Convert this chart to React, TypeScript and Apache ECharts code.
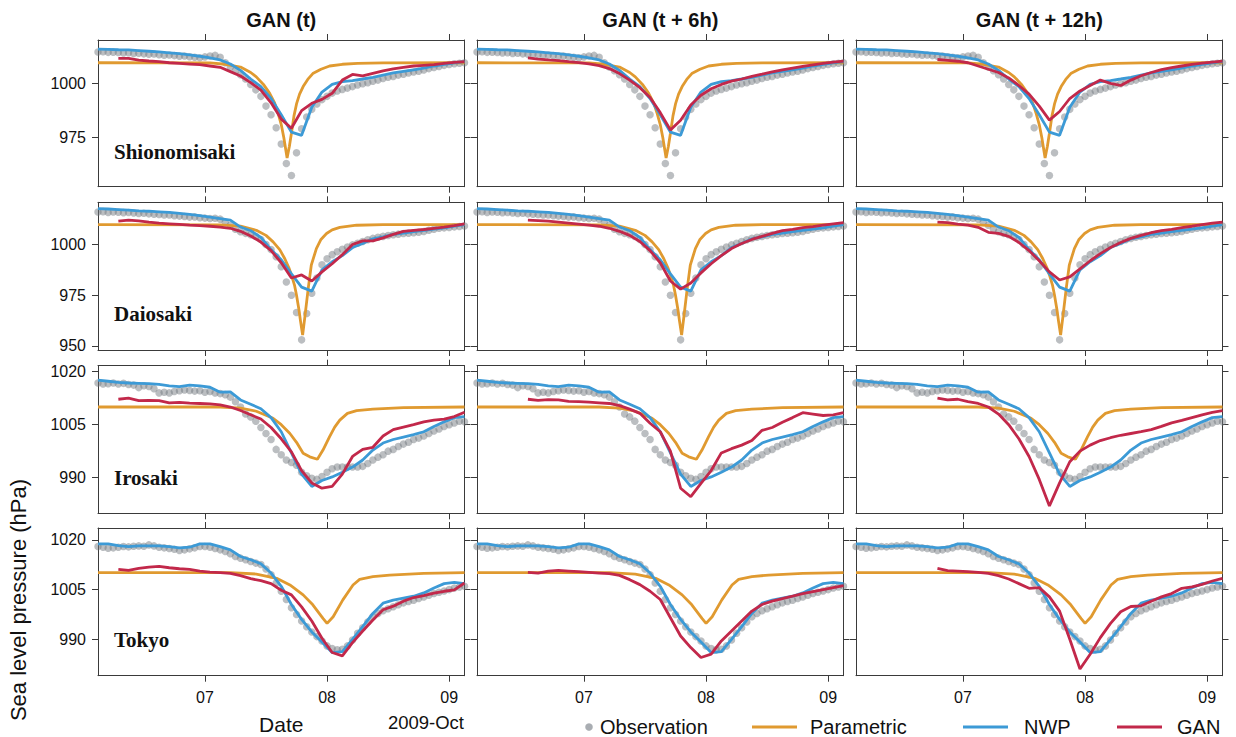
import React, { useEffect, useRef } from 'react';
import * as echarts from 'echarts';

// ---------------- data ----------------
const startDay = 6.125; // 2009-10-06 03:00, hour index 0
const xMinDay = 6.125;
const xMaxDay = 9.125;
const dateTicks = [7, 8, 9];
const dateTickLabels = ['07', '08', '09'];
const panelTitles = ['GAN (t)', 'GAN (t + 6h)', 'GAN (t + 12h)'];
const stationNames = ['Shionomisaki', 'Daiosaki', 'Irosaki', 'Tokyo'];
const pressureTicks = [[975, 1000], [950, 975, 1000], [990, 1005, 1020], [990, 1005, 1020]];
const pressureRanges = [[952.3, 1020], [948, 1020.8], [979.9, 1021.7], [979, 1023.6]];
const ganStartHour = [4, 10, 16]; // GAN(t), GAN(t+6h), GAN(t+12h); then every 2 h
const legendNames = ['Observation', 'Parametric', 'NWP', 'GAN'];

// hourly observations from hour 0
const obsShionomisaki = [
  1014.5, 1014.6, 1014.3, 1014.4, 1014.2, 1014.0, 1014.1, 1013.8, 1013.9, 1013.6, 1013.4, 1013.5, 1013.2, 1013.0, 1013.1, 1012.8, 1012.5, 1012.6, 1012.3, 1012.0, 1011.8, 1012.2, 1012.6, 1012.9, 1012.0,
  1009.5, 1007.5, 1005.8, 1004.0, 1002.0, 999.5, 997.0, 994.0, 989.5, 985.5, 979.5, 972.0, 963.0,
  957.5, 968.0, 979.0, 984.5, 988.0, 990.5, 992.5, 994.0, 995.5, 996.5, 997.2, 997.8, 998.5, 999.2, 999.8, 1000.3, 1001.0, 1001.5, 1002.2, 1002.8, 1003.2, 1003.8, 1004.2, 1004.8, 1005.2, 1005.6, 1006.2, 1006.8, 1007.3, 1007.8, 1008.3, 1008.7, 1009.0, 1009.3, 1009.5,
];
const obsDaiosaki = [
  1016.0, 1016.2, 1015.8, 1016.0, 1015.9, 1015.7, 1015.8, 1015.5, 1015.3, 1015.4, 1015.1, 1014.9, 1014.8, 1014.5, 1014.6, 1014.2, 1014.0, 1013.8, 1013.5, 1013.6, 1013.2, 1013.0, 1012.8, 1012.9, 1012.5,
  1011.0, 1009.5, 1007.5, 1006.3, 1005.5, 1004.8, 1004.0, 1002.5, 1000.0, 997.5, 994.0, 989.0, 981.5, 975.0, 966.5, 953.0,
  966.0, 976.0, 983.5, 990.0, 993.0, 995.0, 996.4, 997.6, 998.8, 999.8, 1000.6, 1001.5, 1002.3, 1003.0, 1003.6, 1004.0, 1004.4, 1004.8, 1005.1, 1005.4, 1005.6, 1005.8, 1006.0, 1006.4, 1007.0, 1007.5, 1008.0, 1008.2, 1008.4, 1008.7, 1008.9, 1009.1,
];
const obsIrosaki = [
  1016.8, 1016.5, 1016.6, 1016.8, 1016.5, 1016.7, 1016.4, 1016.2, 1015.5, 1016.0, 1015.8, 1015.2, 1014.0, 1014.2, 1014.0, 1014.4, 1014.6, 1014.8, 1014.7, 1014.5, 1014.6, 1014.2, 1014.4, 1014.0, 1013.8,
  1013.5, 1012.8, 1011.5, 1010.0, 1008.0, 1007.2, 1006.0, 1004.2, 1002.5, 1000.8, 998.0, 996.5, 995.0, 994.3, 993.5, 991.5, 990.5, 989.8, 989.5, 990.3, 991.5, 992.5, 993.0, 993.0,
  993.0, 993.0, 993.0, 993.2, 994.0, 995.0, 995.8, 996.5, 997.5, 998.0, 998.8, 999.5, 1000.0, 1000.8, 1001.2, 1001.8, 1002.5, 1003.2, 1003.8, 1004.5, 1005.0, 1005.5, 1006.0, 1005.8,
];
const obsTokyo = [
  1018.0, 1017.8, 1017.5, 1017.6, 1017.8, 1018.0, 1017.9, 1018.1, 1018.2, 1018.1, 1018.5, 1018.2, 1017.8, 1017.6, 1017.4, 1017.2, 1016.8, 1017.0, 1017.3, 1017.6, 1018.0, 1018.0, 1017.8, 1017.4, 1017.0,
  1016.5, 1015.8, 1015.0, 1014.5, 1014.0, 1013.5, 1013.0, 1012.6, 1011.2, 1009.5, 1007.0, 1004.5, 1002.0, 999.5, 997.5, 995.5, 993.8, 992.2, 990.8, 989.5, 988.0, 987.2, 986.8, 987.0,
  988.0, 989.8, 991.8, 993.5, 995.2, 996.8, 997.8, 998.6, 999.2, 999.8, 1000.4, 1001.0, 1001.4, 1001.8, 1002.3, 1002.8, 1003.3, 1003.8, 1004.2, 1004.6, 1005.0, 1005.5, 1005.8, 1006.0,
];

// NWP every 2 h from hour 0
const nwpShionomisaki = [
  1015.8, 1015.7, 1015.5, 1015.4, 1015.1, 1014.8, 1014.5, 1014.1, 1013.7, 1013.1, 1012.5, 1011.8, 1010.8,
  1008.9, 1006.0, 1002.0, 998.5, 993.0, 985.5, 977.5, 976.0,
  989.0, 996.0, 999.5, 1000.8, 1001.3, 1002.0, 1002.8, 1003.8, 1004.8, 1005.5, 1006.2, 1007.0, 1008.0, 1008.8, 1009.4, 1010.0,
];
const nwpDaiosaki = [
  1017.7, 1017.5, 1017.2, 1016.9, 1016.6, 1016.4, 1016.1, 1015.8, 1015.3, 1014.8, 1014.2, 1013.5, 1012.8,
  1012.0, 1008.6, 1006.8, 1003.5, 997.5, 992.5, 985.5, 979.0, 977.0,
  987.5, 991.5, 994.5, 998.5, 1000.5, 1002.8, 1003.8, 1005.0, 1005.6, 1006.3, 1007.0, 1007.6, 1008.2, 1009.0, 1009.8,
];
const nwpIrosaki = [
  1017.6, 1017.3, 1017.0, 1016.8, 1016.7, 1016.6, 1016.4, 1016.0, 1015.8, 1016.2, 1016.0, 1015.6, 1014.2,
  1014.3, 1012.0, 1010.8, 1009.5, 1007.0, 1003.0, 997.0, 991.0, 987.5,
  989.2, 990.2, 991.5, 993.0, 995.0, 997.8, 999.8, 1000.8, 1001.5, 1002.2, 1003.0, 1004.5, 1005.8, 1007.0, 1007.3,
];
const nwpTokyo = [
  1018.8, 1018.8, 1018.3, 1018.0, 1018.2, 1018.2, 1018.2, 1018.0, 1017.6, 1017.8, 1018.8, 1018.8, 1018.0,
  1017.0, 1015.0, 1014.0, 1012.8, 1010.0, 1006.0, 1000.5, 996.0, 992.2,
  989.2, 986.0, 986.3, 990.0, 993.8, 997.8, 1000.9, 1001.8, 1002.4, 1003.0, 1004.0, 1005.5, 1006.8, 1007.2, 1006.8,
];

// Parametric model: [hour, hPa]
const paramShionomisaki = [
  [0, 1009.5], [22, 1009.4], [25, 1008.8], [28, 1007.5], [30, 1005], [31.1, 1003], [32.5, 999.5], [33.7, 995.5], [34.7, 991], [35.4, 986], [36, 981], [36.5, 975], [37.15, 965.5],
  [37.6, 971], [38, 977], [38.5, 985], [39, 990.5], [39.6, 995], [40.3, 998.5], [41.2, 1001.8], [42.2, 1004.5], [43.8, 1006.5], [45.5, 1008], [48, 1008.8], [51, 1009.2], [56, 1009.4], [72, 1009.5],
];
const paramDaiosaki = [
  [0, 1009.8], [24, 1009.7], [28, 1009.1], [31.1, 1007], [33, 1004.5], [34.4, 1001.3], [35.7, 997.5], [36.7, 993], [37.5, 988.5], [38, 985], [38.6, 980], [39, 975], [39.5, 967.5], [39.8, 962], [40.2, 955.4],
  [40.6, 963.5], [41, 972], [41.3, 978.4], [41.9, 989.8], [42.9, 998], [43.8, 1002.5], [44.9, 1005.4], [46, 1007.2], [47.5, 1008.4], [50.8, 1009.5], [56, 1009.8], [72, 1009.8],
];
const paramIrosaki = [
  [0, 1010], [24, 1010], [28, 1009.7], [31.1, 1008.8], [34.4, 1006.8], [36, 1005], [37.7, 1002.5], [39, 1000], [40.3, 996.9], [41.6, 995.9], [43.1, 995.2],
  [44.2, 997.8], [45.5, 1001.6], [46.5, 1004.3], [47.5, 1006.3], [49, 1008.2], [50.8, 1009], [54, 1009.4], [60, 1009.8], [72, 1010],
];
const paramTokyo = [
  [0, 1010.1], [26, 1010.1], [31.1, 1009.7], [35.1, 1008.4], [37.7, 1006.4], [40.3, 1003.4], [42.2, 1000.4], [44.2, 996.3], [45, 994.8],
  [46.2, 996.8], [48.1, 1001.9], [50.1, 1006.4], [51.4, 1008.1], [54, 1008.9], [57.3, 1009.4], [64, 1009.9], [72, 1010.1],
];

// GAN every 2 h from ganStartHour
const ganShionomisakiT = [
  1011.5, 1011.5, 1010.7, 1010.3, 1010.0, 1009.5, 1009.2, 1008.9, 1008.6, 1008.0, 1007.4,
  1005.4, 1003.4, 1000.3, 996.9, 991.0, 983.5, 979.3, 987.4,
  990.8, 992.6, 995.4, 1001.5, 1004.1, 1003.4, 1004.6, 1005.8, 1006.7, 1007.4, 1008.0, 1008.3, 1008.6, 1009.2, 1009.7, 1010.0,
];
const ganShionomisakiT6 = [
  1011.8, 1011.2, 1010.8, 1010.5, 1010.0, 1009.6, 1009.0, 1008.2,
  1006.8, 1004.5, 1001.5, 998.0, 993.5, 986.5, 978.5, 983.0,
  990.0, 994.5, 997.5, 999.5, 1001.0, 1002.0, 1003.2, 1004.2, 1005.3, 1006.2, 1007.0, 1007.8, 1008.5, 1009.2, 1009.8, 1010.3,
];
const ganShionomisakiT12 = [
  1011.0, 1010.6, 1010.2, 1009.5, 1008.0,
  1006.5, 1005.0, 1002.5, 999.0, 995.0, 989.5, 983.0, 987.0,
  993.0, 996.5, 999.0, 1001.5, 1000.0, 999.0, 1001.5, 1003.5, 1005.0, 1006.3, 1007.2, 1008.0, 1008.8, 1009.3, 1009.8, 1010.3,
];
const ganDaiosakiT = [
  1011.5, 1012.0, 1011.6, 1011.0, 1010.5, 1010.2, 1009.9, 1009.5, 1009.3, 1009.0, 1008.6,
  1008.0, 1006.5, 1004.2, 1001.2, 997.0, 991.0, 983.5, 985.0,
  982.0, 986.5, 990.5, 995.0, 1000.0, 1001.8, 1001.8, 1003.3, 1005.0, 1006.5, 1007.0, 1007.4, 1008.0, 1008.6, 1009.3, 1010.2,
];
const ganDaiosakiT6 = [
  1012.0, 1011.8, 1011.5, 1011.0, 1010.5, 1010.0, 1009.5, 1009.0,
  1008.0, 1006.5, 1004.5, 1001.5, 997.0, 991.0, 982.0, 978.0,
  981.0, 986.0, 990.5, 994.5, 998.0, 1000.5, 1002.5, 1004.0, 1005.5, 1006.8, 1007.5, 1008.3, 1008.8, 1009.5, 1010.2, 1010.8,
];
const ganDaiosakiT12 = [
  1011.0, 1010.8, 1010.0, 1009.5, 1008.5,
  1006.0, 1005.5, 1004.0, 1001.0, 997.0, 992.0, 986.5, 982.5,
  984.0, 988.0, 992.0, 995.5, 998.5, 1001.0, 1003.0, 1004.5, 1005.8, 1006.8, 1007.5, 1008.3, 1009.0, 1009.8, 1010.5, 1011.0,
];
const ganIrosakiT = [
  1012.2, 1012.5, 1011.8, 1011.9, 1011.8, 1011.2, 1011.3, 1011.1, 1011.0, 1010.9, 1010.6,
  1010.0, 1009.0, 1007.8, 1006.6, 1004.2, 1001.0, 997.3, 992.0,
  988.5, 987.0, 987.5, 991.0, 996.0, 998.0, 998.6, 1001.8, 1003.6, 1004.3, 1005.0, 1005.8, 1006.3, 1006.6, 1007.3, 1008.5,
];
const ganIrosakiT6 = [
  1012.2, 1011.9, 1012.1, 1012.0, 1011.6, 1011.5, 1011.4, 1011.2,
  1011.0, 1010.4, 1009.4, 1008.2, 1005.4, 1003.0, 997.5, 987.0,
  984.6, 988.4, 992.0, 997.0, 998.2, 999.2, 1000.5, 1003.4, 1004.2, 1005.7, 1007.0, 1008.4, 1008.0, 1007.6, 1007.8, 1008.4,
];
const ganIrosakiT12 = [
  1012.5, 1012.0, 1012.2, 1011.5, 1011.0,
  1010.0, 1008.0, 1005.0, 1001.0, 996.0, 989.5, 982.0, 988.5,
  994.5, 997.5, 999.2, 1000.5, 1001.3, 1002.0, 1002.5, 1003.0, 1003.6, 1004.5, 1005.5, 1006.2, 1007.0, 1007.8, 1008.5, 1009.0,
];
const ganTokyoT = [
  1011.1, 1010.8, 1011.4, 1011.8, 1012.0, 1011.6, 1011.3, 1011.1, 1010.6, 1010.3, 1010.1,
  1009.9, 1009.2, 1008.3, 1007.7, 1006.8, 1004.8, 1003.4, 999.8,
  995.5, 990.3, 986.0, 985.0, 989.0, 992.5, 995.8, 998.9, 1000.0, 1001.5, 1002.6, 1003.2, 1003.9, 1004.5, 1004.9, 1007.0,
];
const ganTokyoT6 = [
  1010.2, 1010.0, 1010.6, 1010.8, 1010.6, 1010.4, 1010.2, 1010.0,
  1009.8, 1009.3, 1008.0, 1006.5, 1004.5, 1002.0, 996.5, 991.0,
  987.5, 984.5, 985.5, 989.5, 992.5, 995.5, 998.5, 1000.5, 1001.5, 1002.3, 1003.0, 1003.8, 1004.4, 1005.0, 1005.6, 1006.2,
];
const ganTokyoT12 = [
  1011.4, 1010.7, 1010.6, 1010.4, 1010.2,
  1009.9, 1009.2, 1008.2, 1006.8, 1005.4, 1005.6, 1002.8, 998.5,
  990.0, 981.0, 985.5, 990.5, 994.8, 998.3, 999.9, 1000.1, 1001.5, 1002.8, 1003.8, 1005.4, 1005.8, 1006.6, 1007.6, 1008.4,
];

// ---------------- presentation ----------------
const COLORS = {
  obs: 'rgba(112,119,126,0.6)',
  param: '#E09A30',
  nwp: '#3C9AD6',
  gan: '#C2284A',
  axis: '#3a3a3a',
  text: '#111111',
};
const SANS = "'Liberation Sans', Arial, Helvetica, sans-serif";
const SERIF = "'Liberation Serif', 'Times New Roman', serif";
const colLeft = [98, 477, 856];
const colWidth = 366.5;
const rowTop = [40, 202.3, 365.7, 528];
const rowHeight = [146.7, 147.7, 147.6, 147.7];

const toDay = (h: number) => startDay + h / 24;

const stationData = [
  { obs: obsShionomisaki, nwp: nwpShionomisaki, param: paramShionomisaki, gan: [ganShionomisakiT, ganShionomisakiT6, ganShionomisakiT12] },
  { obs: obsDaiosaki, nwp: nwpDaiosaki, param: paramDaiosaki, gan: [ganDaiosakiT, ganDaiosakiT6, ganDaiosakiT12] },
  { obs: obsIrosaki, nwp: nwpIrosaki, param: paramIrosaki, gan: [ganIrosakiT, ganIrosakiT6, ganIrosakiT12] },
  { obs: obsTokyo, nwp: nwpTokyo, param: paramTokyo, gan: [ganTokyoT, ganTokyoT6, ganTokyoT12] },
];

function buildOption() {
  const grid: any[] = [];
  const xAxis: any[] = [];
  const yAxis: any[] = [];
  const series: any[] = [];
  const lineStyleAxis = { color: COLORS.axis, width: 1 };

  for (let r = 0; r < 4; r++) {
    const d = stationData[r];
    for (let c = 0; c < 3; c++) {
      const g = r * 3 + c;
      grid.push({ left: colLeft[c], top: rowTop[r], width: colWidth, height: rowHeight[r], containLabel: false });
      const xBase = {
        type: 'value', gridIndex: g, min: xMinDay, max: xMaxDay,
        splitLine: { show: false },
        axisLine: { show: true, onZero: false, lineStyle: lineStyleAxis },
        axisTick: { show: true, inside: false, length: 6, customValues: dateTicks, lineStyle: lineStyleAxis },
      };
      xAxis.push({
        ...xBase, position: 'bottom',
        axisLabel: {
          show: r === 3, customValues: dateTicks, margin: 14, fontSize: 16, fontFamily: SANS, color: COLORS.text,
          formatter: (v: number) => dateTickLabels[dateTicks.indexOf(Math.round(v))] ?? '',
        },
      });
      xAxis.push({ ...xBase, position: 'top', axisLabel: { show: false } });
      const yBase = {
        type: 'value', gridIndex: g, min: pressureRanges[r][0], max: pressureRanges[r][1],
        splitLine: { show: false },
        axisLine: { show: true, onZero: false, lineStyle: lineStyleAxis },
        axisTick: { show: true, inside: false, length: 6, customValues: pressureTicks[r], lineStyle: lineStyleAxis },
      };
      yAxis.push({
        ...yBase, position: 'left',
        axisLabel: { show: c === 0, customValues: pressureTicks[r], margin: 12, fontSize: 16, fontFamily: SANS, color: COLORS.text, formatter: (v: number) => String(Math.round(v)) },
      });
      yAxis.push({ ...yBase, position: 'right', axisLabel: { show: false } });

      const xi = 2 * g;
      const yi = 2 * g;
      series.push({
        type: 'scatter', name: legendNames[0], xAxisIndex: xi, yAxisIndex: yi, silent: true, z: 1,
        symbolSize: 7.5, itemStyle: { color: COLORS.obs },
        data: d.obs.map((v, i) => [toDay(i), v]),
      });
      series.push({
        type: 'line', name: legendNames[1], xAxisIndex: xi, yAxisIndex: yi, silent: true, z: 2,
        showSymbol: false, symbol: 'none', lineStyle: { color: COLORS.param, width: 2.8 },
        data: d.param.map(([h, v]) => [toDay(h), v]),
      });
      series.push({
        type: 'line', name: legendNames[2], xAxisIndex: xi, yAxisIndex: yi, silent: true, z: 3,
        showSymbol: false, symbol: 'none', lineStyle: { color: COLORS.nwp, width: 2.8 },
        data: d.nwp.map((v, i) => [toDay(i * 2), v]),
      });
      series.push({
        type: 'line', name: legendNames[3], xAxisIndex: xi, yAxisIndex: yi, silent: true, z: 4,
        showSymbol: false, symbol: 'none', lineStyle: { color: COLORS.gan, width: 2.8 },
        data: d.gan[c].map((v, i) => [toDay(ganStartHour[c] + i * 2), v]),
      });
    }
  }

  const graphic: any[] = [];
  panelTitles.forEach((t, c) => {
    graphic.push({
      type: 'text', x: colLeft[c] + colWidth / 2, y: 20,
      style: { text: t, font: `bold 20px ${SANS}`, fill: COLORS.text, align: 'center', verticalAlign: 'middle' },
    });
  });
  stationNames.forEach((s, r) => {
    graphic.push({
      type: 'text', x: 114, y: rowTop[r] + 112,
      style: { text: s, font: `bold 21px ${SERIF}`, fill: COLORS.text, align: 'left', verticalAlign: 'middle' },
    });
  });
  graphic.push({
    type: 'text', x: 18, y: 600, rotation: Math.PI / 2,
    style: { text: 'Sea level pressure (hPa)', font: `22px ${SANS}`, fill: COLORS.text, align: 'center', verticalAlign: 'middle' },
  });
  graphic.push({
    type: 'text', x: colLeft[0] + colWidth / 2, y: 724,
    style: { text: 'Date', font: `21px ${SANS}`, fill: COLORS.text, align: 'center', verticalAlign: 'middle' },
  });
  graphic.push({
    type: 'text', x: 464, y: 722,
    style: { text: '2009-Oct', font: `18.5px ${SANS}`, fill: COLORS.text, align: 'right', verticalAlign: 'middle' },
  });
  // legend
  const legendY = 727;
  graphic.push({ type: 'circle', shape: { cx: 589, cy: legendY, r: 3.8 }, style: { fill: COLORS.obs } });
  graphic.push({ type: 'text', x: 600, y: legendY, style: { text: legendNames[0], font: `20px ${SANS}`, fill: COLORS.text, align: 'left', verticalAlign: 'middle' } });
  const lineItems = [
    { name: legendNames[1], color: COLORS.param, x0: 752, tx: 810 },
    { name: legendNames[2], color: COLORS.nwp, x0: 963, tx: 1024 },
    { name: legendNames[3], color: COLORS.gan, x0: 1117, tx: 1177 },
  ];
  lineItems.forEach((it) => {
    graphic.push({ type: 'line', shape: { x1: it.x0, y1: legendY, x2: it.x0 + 45, y2: legendY }, style: { stroke: it.color, lineWidth: 3 } });
    graphic.push({ type: 'text', x: it.tx, y: legendY, style: { text: it.name, font: `20px ${SANS}`, fill: COLORS.text, align: 'left', verticalAlign: 'middle' } });
  });

  return {
    animation: false,
    backgroundColor: '#ffffff',
    grid, xAxis, yAxis, series, graphic,
  };
}

export default function App() {
  const ref = useRef<HTMLDivElement>(null);
  useEffect(() => {
    if (!ref.current) return;
    const chart = echarts.init(ref.current, null, { renderer: 'svg' });
    chart.setOption(buildOption() as any);
    return () => chart.dispose();
  }, []);
  return <div ref={ref} style={{ position: 'fixed', left: 0, top: 0, width: 1236, height: 737, background: '#fff' }} />;
}
